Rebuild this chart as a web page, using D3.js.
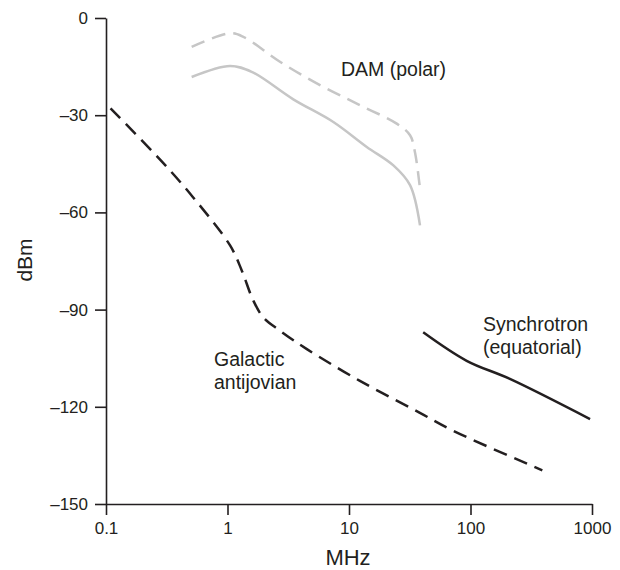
<!DOCTYPE html>
<html>
<head>
<meta charset="utf-8">
<script src="https://cdn.jsdelivr.net/npm/d3@7"></script>
<style>
  body { margin: 0; background: #fff; }
  text { font-family: "Liberation Sans", Arial, sans-serif; fill: #231f20; }
  .axis path, .axis line { stroke: #231f20; stroke-width: 1.6; }
</style>
</head>
<body>
<div id="chart"></div>
<script>
  // frequency (MHz) / power (dBm)
  const galactic = [
    [0.109, -27.9], [0.29, -44.4], [0.52, -55.3], [1.05, -70.2], [1.31, -77.9],
    [1.63, -87.2], [1.97, -92.4], [2.7, -96.5], [4.5, -102.2], [12.3, -112],
    [38, -121.8], [72, -127.4], [390, -139.6],
  ];
  const damPeak = [
    [0.507, -8.9], [1.05, -4.7], [1.35, -5.8], [2.7, -13.5], [5.77, -20.7],
    [12.3, -26.9], [24.7, -32.6], [31.8, -36.2], [34.9, -41.4], [38.4, -52.7],
  ];
  const damMean = [
    [0.507, -18.2], [1.05, -14.8], [1.58, -16.6], [3.48, -25.1], [7.43, -32.1],
    [14, -39.8], [23.2, -45.5], [31.8, -51.6], [38.4, -64],
  ];
  const synchrotron = [
    [40.8, -97], [93, -105.8], [211, -111.4], [964, -123.8],
  ];
  const xTicks = [0.1, 1, 10, 100, 1000];
  const yTicks = [0, -30, -60, -90, -120, -150];

  const width = 620;
  const height = 570;

  const svg = d3.select('#chart').append('svg')
    .attr('width', width)
    .attr('height', height);

  const x = d3.scaleLog().domain([0.1, 1000]).range([106, 592]);
  const y = d3.scaleLinear().domain([-150, 0]).range([504, 18]);

  const fmt = (v) => (v < 0 ? '\u2013' + Math.abs(v) : String(v));

  svg.append('g')
    .attr('class', 'axis')
    .attr('transform', 'translate(0,504)')
    .call(d3.axisBottom(x).tickValues(xTicks).tickFormat((d) => String(d))
      .tickSize(11).tickSizeOuter(0).tickPadding(7))
    .selectAll('text')
    .style('font-size', '17px');

  svg.append('g')
    .attr('class', 'axis')
    .attr('transform', 'translate(106,0)')
    .call(d3.axisLeft(y).tickValues(yTicks).tickFormat(fmt)
      .tickSize(11).tickSizeOuter(0).tickPadding(7))
    .selectAll('text')
    .style('font-size', '17px');

  svg.selectAll('.axis text').attr('fill', '#231f20');

  svg.append('text')
    .attr('x', 348)
    .attr('y', 565)
    .attr('text-anchor', 'middle')
    .style('font-size', '22px')
    .text('MHz');

  svg.append('text')
    .attr('transform', 'translate(32,260) rotate(-90)')
    .attr('text-anchor', 'middle')
    .style('font-size', '21px')
    .text('dBm');

  const line = d3.line()
    .x((d) => x(d[0]))
    .y((d) => y(d[1]))
    .curve(d3.curveCatmullRom.alpha(0.5));

  const series = [
    { data: damPeak, color: '#c6c6c6', dash: '14,8' },
    { data: damMean, color: '#c6c6c6', dash: null },
    { data: galactic, color: '#231f20', dash: '14,8' },
    { data: synchrotron, color: '#231f20', dash: null },
  ];

  svg.selectAll('path.series')
    .data(series)
    .join('path')
    .attr('class', 'series')
    .attr('d', (d) => line(d.data))
    .attr('fill', 'none')
    .attr('stroke', (d) => d.color)
    .attr('stroke-width', 2.5)
    .attr('stroke-dasharray', (d) => d.dash);

  const labels = [
    { lines: ['DAM (polar)'], x: 341, y: 76 },
    { lines: ['Synchrotron', '(equatorial)'], x: 483, y: 331 },
    { lines: ['Galactic', 'antijovian'], x: 214, y: 366 },
  ];

  labels.forEach((l) => {
    const t = svg.append('text')
      .attr('x', l.x)
      .attr('y', l.y)
      .style('font-size', '19.5px');
    l.lines.forEach((s, i) => {
      t.append('tspan')
        .attr('x', l.x)
        .attr('dy', i === 0 ? 0 : 23)
        .text(s);
    });
  });
</script>
</body>
</html>
